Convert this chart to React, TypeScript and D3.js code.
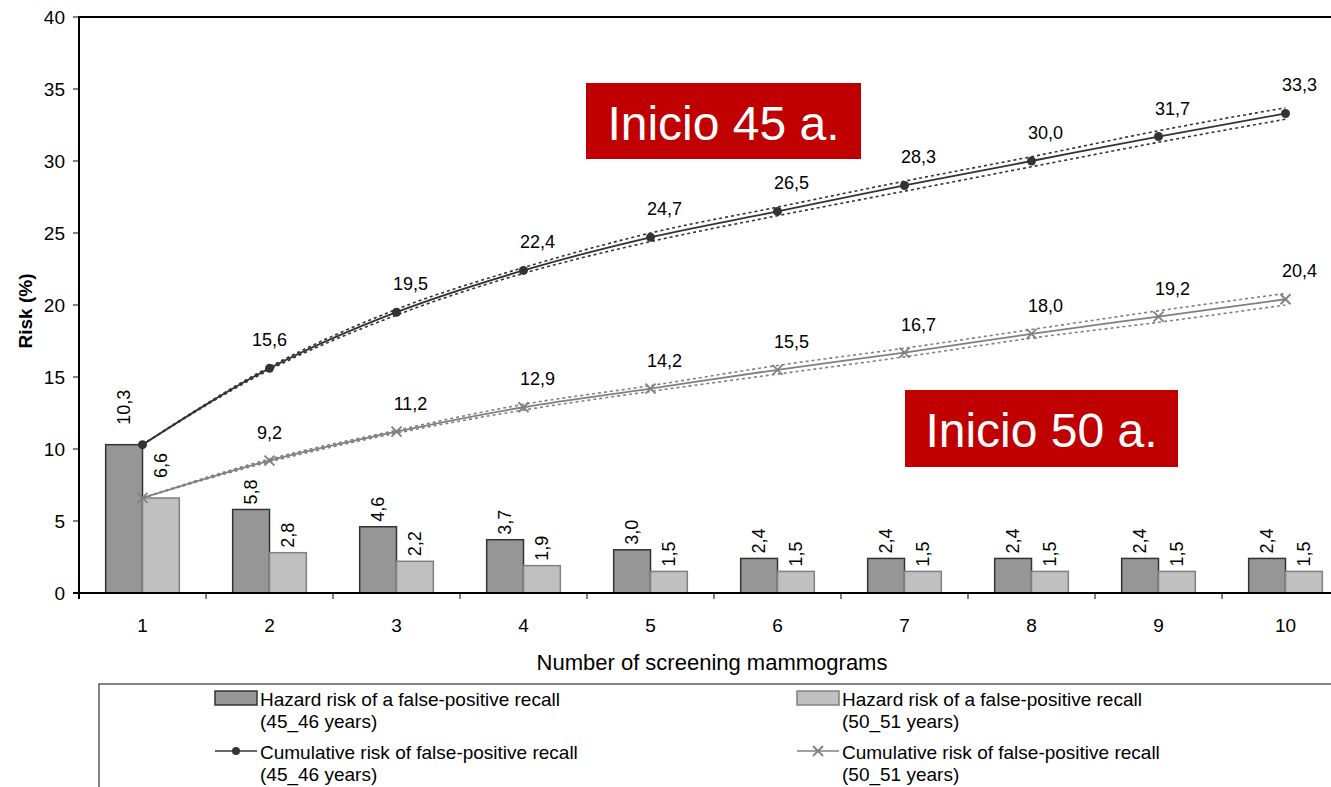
import React, { useEffect, useRef } from "react";
import * as d3 from "d3";

const categories = ["1", "2", "3", "4", "5", "6", "7", "8", "9", "10"];
const hazard45 = [10.3, 5.8, 4.6, 3.7, 3.0, 2.4, 2.4, 2.4, 2.4, 2.4];
const hazard50 = [6.6, 2.8, 2.2, 1.9, 1.5, 1.5, 1.5, 1.5, 1.5, 1.5];
const cum45 = [10.3, 15.6, 19.5, 22.4, 24.7, 26.5, 28.3, 30.0, 31.7, 33.3];
const cum45Low = [10.3, 15.5, 19.3, 22.2, 24.4, 26.2, 27.9, 29.6, 31.3, 32.9];
const cum45High = [10.3, 15.7, 19.7, 22.6, 25.0, 26.8, 28.6, 30.3, 32.1, 33.7];
const cum50 = [6.6, 9.2, 11.2, 12.9, 14.2, 15.5, 16.7, 18.0, 19.2, 20.4];
const cum50Low = [6.6, 9.1, 11.1, 12.7, 14.0, 15.2, 16.4, 17.7, 18.8, 20.0];
const cum50High = [6.6, 9.3, 11.3, 13.1, 14.4, 15.8, 17.0, 18.3, 19.6, 20.8];
const yTicks = [0, 5, 10, 15, 20, 25, 30, 35, 40];

const fmt = (v: number) => v.toFixed(1).replace(".", ",");

export default function App() {
  const svgRef = useRef<SVGSVGElement>(null);

  useEffect(() => {
    document.body.style.margin = "0";
    const W = 1331, H = 787;
    const svg = d3.select(svgRef.current);
    svg.selectAll("*").remove();
    svg.attr("width", W).attr("height", H).style("font-family", "'Liberation Sans', Arial, sans-serif");

    const left = 79, top = 17, bottom = 593;
    const x = d3.scaleBand<string>().domain(categories).range([left, left + 1270]).padding(0);
    const y = d3.scaleLinear().domain([0, 40]).range([bottom, top]);
    const cx = (i: number) => (x(categories[i]) as number) + x.bandwidth() / 2;
    const barW = x.bandwidth() * 0.29;

    const g = svg.append("g");

    // bars
    g.selectAll("rect.h45").data(hazard45).enter().append("rect")
      .attr("x", (d, i) => cx(i) - barW).attr("y", d => y(d))
      .attr("width", barW).attr("height", d => bottom - y(d))
      .attr("fill", "#969696").attr("stroke", "#333333").attr("stroke-width", 1.5);
    g.selectAll("rect.h50").data(hazard50).enter().append("rect")
      .attr("x", (d, i) => cx(i)).attr("y", d => y(d))
      .attr("width", barW).attr("height", d => bottom - y(d))
      .attr("fill", "#c0c0c0").attr("stroke", "#808080").attr("stroke-width", 1.5);

    // bar labels (rotated)
    const barLabel = (data: number[], side: number) => {
      g.selectAll(null).data(data).enter().append("text")
        .attr("transform", (d, i) => `translate(${cx(i) + side * barW / 2},${y(d) - (i === 0 ? 20 : 5)}) rotate(-90)`)
        .attr("text-anchor", "start").attr("dominant-baseline", "central")
        .attr("font-size", 18).attr("fill", "#000").text(d => fmt(d));
    };
    barLabel(hazard45, -1);
    barLabel(hazard50, 1);

    // lines
    const lineGen = d3.line<number>().x((d, i) => cx(i)).y(d => y(d)).curve(d3.curveMonotoneX);
    const drawSeries = (vals: number[], low: number[], high: number[], color: string) => {
      [low, high].forEach(arr => {
        g.append("path").datum(arr).attr("d", lineGen).attr("fill", "none")
          .attr("stroke", color).attr("stroke-width", 1.6).attr("stroke-dasharray", "3,3");
      });
      g.append("path").datum(vals).attr("d", lineGen).attr("fill", "none")
        .attr("stroke", color).attr("stroke-width", 1.8);
    };
    drawSeries(cum50, cum50Low, cum50High, "#808080");
    drawSeries(cum45, cum45Low, cum45High, "#333333");

    // markers
    g.selectAll("circle.m45").data(cum45).enter().append("circle")
      .attr("cx", (d, i) => cx(i)).attr("cy", d => y(d)).attr("r", 4.5).attr("fill", "#333333");
    const xs = 5;
    g.selectAll("path.m50").data(cum50).enter().append("path")
      .attr("d", (d, i) => `M${cx(i) - xs},${y(d) - xs}L${cx(i) + xs},${y(d) + xs}M${cx(i) - xs},${y(d) + xs}L${cx(i) + xs},${y(d) - xs}`)
      .attr("stroke", "#808080").attr("stroke-width", 1.8).attr("fill", "none");

    // cumulative labels (skip first, shown by bars)
    const cumLabel = (data: number[]) => {
      g.selectAll(null).data(data.slice(1)).enter().append("text")
        .attr("x", (d, i) => cx(i + 1) + (i === 0 ? 0 : 14)).attr("y", d => y(d) - 28)
        .attr("text-anchor", "middle").attr("dominant-baseline", "central")
        .attr("font-size", 18).attr("fill", "#000").text(d => fmt(d));
    };
    cumLabel(cum45);
    cumLabel(cum50);

    // axes
    const ax = svg.append("g");
    ax.append("line").attr("x1", left).attr("x2", W).attr("y1", top).attr("y2", top)
      .attr("stroke", "#000").attr("stroke-width", 2);
    ax.append("line").attr("x1", left).attr("x2", left).attr("y1", top - 1).attr("y2", bottom + 6)
      .attr("stroke", "#000").attr("stroke-width", 2);
    ax.append("line").attr("x1", left - 6).attr("x2", W).attr("y1", bottom).attr("y2", bottom)
      .attr("stroke", "#000").attr("stroke-width", 2);
    yTicks.forEach(t => {
      ax.append("line").attr("x1", left - 6).attr("x2", left).attr("y1", y(t)).attr("y2", y(t))
        .attr("stroke", "#000").attr("stroke-width", 1);
      ax.append("text").attr("x", left - 14).attr("y", y(t)).attr("text-anchor", "end")
        .attr("dominant-baseline", "central").attr("font-size", 19).text(t);
    });
    categories.forEach((c, i) => {
      const bx = x(c) as number;
      if (i > 0) ax.append("line").attr("x1", bx).attr("x2", bx).attr("y1", bottom).attr("y2", bottom + 6)
        .attr("stroke", "#000").attr("stroke-width", 1);
      ax.append("text").attr("x", cx(i)).attr("y", 625).attr("text-anchor", "middle")
        .attr("dominant-baseline", "central").attr("font-size", 19).text(c);
    });
    ax.append("text").attr("x", 712).attr("y", 662).attr("text-anchor", "middle")
      .attr("dominant-baseline", "central").attr("font-size", 22).text("Number of screening mammograms");
    ax.append("text").attr("transform", `translate(25,${(top + bottom) / 2 + 6}) rotate(-90)`)
      .attr("text-anchor", "middle").attr("dominant-baseline", "central")
      .attr("font-size", 19).attr("font-weight", "bold").text("Risk (%)");

    // annotation boxes
    const note = (bx: number, by: number, bw: number, bh: number, txt: string) => {
      svg.append("rect").attr("x", bx).attr("y", by).attr("width", bw).attr("height", bh).attr("fill", "#c00000");
      svg.append("text").attr("x", bx + bw / 2).attr("y", by + bh / 2 + 2).attr("text-anchor", "middle")
        .attr("dominant-baseline", "central").attr("font-size", 48).attr("fill", "#fff").text(txt);
    };
    note(586, 83, 275, 76, "Inicio 45 a.");
    note(905, 390, 273, 77, "Inicio 50 a.");

    // legend
    const lg = svg.append("g");
    lg.append("rect").attr("x", 99).attr("y", 684).attr("width", 1300).attr("height", 120)
      .attr("fill", "#fff").attr("stroke", "#333").attr("stroke-width", 1.2);
    const legendItems = [
      { x: 215, y: 698, kind: "bar", fill: "#969696", stroke: "#333333", l1: "Hazard risk of a false-positive recall", l2: "(45_46 years)" },
      { x: 797, y: 698, kind: "bar", fill: "#c0c0c0", stroke: "#808080", l1: "Hazard risk of a false-positive recall", l2: "(50_51 years)" },
      { x: 215, y: 751, kind: "dot", fill: "#333333", stroke: "#333333", l1: "Cumulative risk of false-positive recall", l2: "(45_46 years)" },
      { x: 797, y: 751, kind: "x", fill: "#808080", stroke: "#808080", l1: "Cumulative risk of false-positive recall", l2: "(50_51 years)" },
    ];
    legendItems.forEach(it => {
      if (it.kind === "bar") {
        lg.append("rect").attr("x", it.x).attr("y", it.y - 7).attr("width", 42).attr("height", 14)
          .attr("fill", it.fill).attr("stroke", it.stroke).attr("stroke-width", 1.5);
      } else {
        lg.append("line").attr("x1", it.x).attr("x2", it.x + 42).attr("y1", it.y).attr("y2", it.y)
          .attr("stroke", it.stroke).attr("stroke-width", 1.6);
        const mx = it.x + 21;
        if (it.kind === "dot") lg.append("circle").attr("cx", mx).attr("cy", it.y).attr("r", 4).attr("fill", it.fill);
        else lg.append("path").attr("d", `M${mx - 5},${it.y - 5}L${mx + 5},${it.y + 5}M${mx - 5},${it.y + 5}L${mx + 5},${it.y - 5}`)
          .attr("stroke", it.stroke).attr("stroke-width", 1.8);
      }
      lg.append("text").attr("x", it.x + 45).attr("y", it.y + 1).attr("dominant-baseline", "central")
        .attr("font-size", 19).text(it.l1);
      lg.append("text").attr("x", it.x + 45).attr("y", it.y + 23).attr("dominant-baseline", "central")
        .attr("font-size", 19).text(it.l2);
    });
  }, []);

  return <svg ref={svgRef} style={{ display: "block" }}></svg>;
}
